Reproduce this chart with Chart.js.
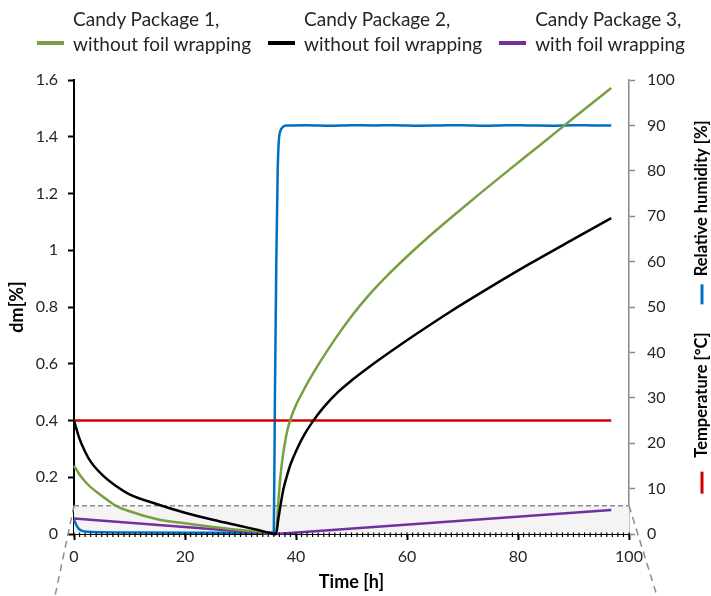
<!DOCTYPE html>
<html>
<head>
<meta charset="utf-8">
<script src="https://cdn.jsdelivr.net/npm/chart.js@4.4.1/dist/chart.umd.min.js"></script>
<style>
  html, body { margin: 0; padding: 0; background: #fff; }
  #wrap { position: relative; width: 711px; height: 596px; }
  #legend {
    position: absolute; top: 6px; left: 0; width: 711px;
    display: flex; justify-content: flex-start; gap: 17px;
    padding-left: 37px; box-sizing: border-box;
    font-family: Lato, "Open Sans", sans-serif; font-size: 19px; color: #262626;
  }
  .item { display: flex; align-items: flex-end; }
  .swatch { width: 27px; height: 4px; margin: 0 9px 11px 0; }
  .lbl { line-height: 25px; white-space: nowrap; }
</style>
</head>
<body>
<div id="wrap">
  <canvas id="chart" width="711" height="596"></canvas>
  <div id="legend"></div>
</div>
<script>
// ─── Data ────────────────────────────────────────────────────────────────────

// drying phase (dm falls), then humid phase (dm rises)
const timeDry  = [0, 1, 2, 3, 5, 7.5, 10, 15, 20, 25, 30, 33, 36.4];
const pkg1Dry  = [0.24, 0.21, 0.185, 0.165, 0.135, 0.10, 0.08, 0.052, 0.038, 0.025, 0.014, 0.008, 0];
const pkg2Dry  = [0.40, 0.335, 0.29, 0.255, 0.21, 0.17, 0.14, 0.105, 0.075, 0.05, 0.028, 0.015, 0];

const timeWet1 = [36.7, 37, 37.4, 37.9, 38.5, 39.2, 40, 41, 42, 44, 47, 50, 53, 56, 60, 65, 71, 78, 84, 90, 96.8];
const pkg1Wet  = [0.08, 0.16, 0.24, 0.31, 0.37, 0.415, 0.455, 0.493, 0.53, 0.596, 0.686, 0.767, 0.839, 0.902,
                  0.978, 1.066, 1.165, 1.277, 1.371, 1.466, 1.572];

const timeWet2 = [36.8, 37.2, 37.7, 38.3, 39, 40, 41.5, 43, 45, 47.5, 50, 53, 57, 62, 68, 75, 82, 90, 96.8];
const pkg2Wet  = [0.05, 0.10, 0.155, 0.20, 0.245, 0.292, 0.35, 0.396, 0.447, 0.499, 0.541, 0.586, 0.642,
                  0.709, 0.786, 0.87, 0.951, 1.039, 1.113];

const timePkg3 = [0, 36.4, 96.8];
const pkg3     = [0.055, 0, 0.085];

const timeRh   = [0, 0.5, 1, 1.5, 2.5, 5, 10, 20, 30, 36.0, 36.2, 36.45, 36.7, 36.9, 37.2, 37.6, 38.2,
                  42, 46, 50, 54, 58, 62, 66, 70, 74, 78, 82, 86, 90, 94, 96.8];
const rh       = [3.1, 1.8, 1.0, 0.7, 0.5, 0.4, 0.35, 0.3, 0.3, 0.4, 30, 60, 80, 86.5, 88.8, 89.6, 90.0,
                  90.05, 89.95, 90.05, 90.0, 90.05, 89.95, 90.0, 90.05, 89.95, 90.05, 90.0, 89.95, 90.05, 90.0, 90.0];

const timeTemp = [0, 96.8];
const temp     = [25, 25];

const xTicks   = [0, 20, 40, 60, 80, 100];
const boxTop   = 0.1;   // zoomed band, dm[%]

// ─── Helpers ─────────────────────────────────────────────────────────────────

function pts(xs, ys) {
  return xs.map((x, i) => ({ x, y: ys[i] }));
}

const FONT = "Lato, 'Open Sans', sans-serif";
Chart.defaults.font.family = FONT;
Chart.defaults.color = "#262626";

// ─── Plugins ─────────────────────────────────────────────────────────────────

const zoomBand = {
  id: "zoomBand",
  beforeDatasetsDraw(chart) {
    const { ctx, scales: { x, y } } = chart;
    const l = x.getPixelForValue(xTicks[0]);
    const r = x.getPixelForValue(xTicks[xTicks.length - 1]);
    const t = y.getPixelForValue(boxTop);
    const b = y.getPixelForValue(0);
    ctx.save();
    ctx.fillStyle = "#f4f4f4";
    ctx.fillRect(l, t, r - l, b - t);
    ctx.setLineDash([5, 3]);
    ctx.strokeStyle = "#8c8c8c";
    ctx.lineWidth = 1.5;
    ctx.beginPath();
    ctx.moveTo(l, t);
    ctx.lineTo(r, t);
    ctx.stroke();
    ctx.restore();
  },
  afterDraw(chart) {
    const { ctx, scales: { x, y } } = chart;
    const l = x.getPixelForValue(xTicks[0]);
    const r = x.getPixelForValue(xTicks[xTicks.length - 1]);
    const t = y.getPixelForValue(boxTop);
    const b = y.getPixelForValue(0);
    ctx.save();
    // minor ticks, every hour
    ctx.strokeStyle = "#000";
    ctx.lineWidth = 1.2;
    for (let v = xTicks[0]; v <= xTicks[xTicks.length - 1]; v += 1) {
      const px = x.getPixelForValue(v);
      ctx.beginPath();
      ctx.moveTo(px, b - 1.5);
      ctx.lineTo(px, b + 3);
      ctx.stroke();
    }
    // zoom-out guide lines
    ctx.setLineDash([7, 5]);
    ctx.strokeStyle = "#8c8c8c";
    ctx.lineWidth = 1.5;
    ctx.beginPath();
    ctx.moveTo(l, t);
    ctx.lineTo(l - 19, chart.height);
    ctx.moveTo(r, t);
    ctx.lineTo(r + 28, chart.height);
    ctx.stroke();
    ctx.restore();
  }
};

const rightTitle = {
  id: "rightTitle",
  afterDraw(chart) {
    const { ctx, chartArea } = chart;
    const s = chart.scales.y1;
    const parts = [
      { dash: "#d00000", len: 22 }, { gap: 14 },
      { text: "Temperature [°C]" }, { gap: 28 },
      { dash: "#0070c0", len: 20 }, { gap: 8 },
      { text: "Relative humidity [%]" }
    ];
    ctx.save();
    ctx.font = "bold 16.5px " + FONT;
    let total = 0;
    for (const p of parts) {
      p.w = p.text ? ctx.measureText(p.text).width : (p.len || p.gap);
      total += p.w;
    }
    ctx.translate(s.right - 9, (chartArea.top + chartArea.bottom) / 2);
    ctx.rotate(-Math.PI / 2);
    ctx.textBaseline = "middle";
    ctx.textAlign = "left";
    let pos = -total / 2;
    for (const p of parts) {
      if (p.text) {
        ctx.fillStyle = "#000";
        ctx.fillText(p.text, pos, 0);
      } else if (p.dash) {
        ctx.strokeStyle = p.dash;
        ctx.lineWidth = 3;
        ctx.beginPath();
        ctx.moveTo(pos, 0);
        ctx.lineTo(pos + p.w, 0);
        ctx.stroke();
      }
      pos += p.w;
    }
    ctx.restore();
  }
};

// ─── Chart ───────────────────────────────────────────────────────────────────

const line = (label, data, color, axis, extra) => Object.assign({
  label,
  data,
  borderColor: color,
  backgroundColor: color,
  borderWidth: 2.5,
  pointRadius: 0,
  cubicInterpolationMode: "monotone",
  yAxisID: axis,
  clip: false
}, extra || {});

const chart = new Chart(document.getElementById("chart"), {
  type: "line",
  data: {
    datasets: [
      line("Relative humidity [%]", pts(timeRh, rh), "#0070c0", "y1", { order: 5 }),
      line("Temperature [°C]", pts(timeTemp, temp), "#d00000", "y1", { order: 4 }),
      line("Candy Package 1, without foil wrapping",
           pts(timeDry, pkg1Dry).concat(pts(timeWet1, pkg1Wet)), "#78a042", "y",
           { legendLines: ["Candy Package 1,", "without foil wrapping"], order: 2 }),
      line("Candy Package 2, without foil wrapping",
           pts(timeDry, pkg2Dry).concat(pts(timeWet2, pkg2Wet)), "#000000", "y",
           { legendLines: ["Candy Package 2,", "without foil wrapping"], order: 1 }),
      line("Candy Package 3, with foil wrapping", pts(timePkg3, pkg3), "#7030a0", "y",
           { legendLines: ["Candy Package 3,", "with foil wrapping"], order: 3, cubicInterpolationMode: "default", tension: 0 })
    ]
  },
  options: {
    responsive: false,
    animation: false,
    layout: { padding: { top: 80, left: 0, right: 0, bottom: 0 } },
    plugins: { legend: { display: false }, tooltip: { enabled: false } },
    scales: {
      x: {
        type: "linear",
        min: 0, max: 100,
        afterFit: s => { s.height = 62; },
        afterBuildTicks: s => { s.ticks = xTicks.map(v => ({ value: v })); },
        ticks: { font: { size: 16 }, padding: 7, maxRotation: 0 },
        grid: { drawOnChartArea: false, tickLength: 6, tickColor: "#000", tickWidth: 2 },
        border: { color: "#000", width: 2 },
        title: { display: true, text: "Time [h]", color: "#000", font: { size: 18, weight: "bold" }, padding: { bottom: 3 } }
      },
      y: {
        position: "left",
        min: 0, max: 1.6,
        afterFit: s => { s.width = 74; },
        ticks: { stepSize: 0.2, font: { size: 16 }, padding: 10,
                 callback: v => String(Number(v.toFixed(1))) },
        grid: { drawOnChartArea: false, tickLength: 6, tickColor: "#000", tickWidth: 2 },
        border: { color: "#000", width: 2 },
        title: { display: true, text: "dm[%]", color: "#000", font: { size: 18, weight: "bold" }, padding: { top: 6 } }
      },
      y1: {
        position: "right",
        min: 0, max: 100,
        afterFit: s => { s.width = 82; },
        ticks: { stepSize: 10, font: { size: 16 }, padding: 12 },
        grid: { drawOnChartArea: false, tickLength: 6, tickColor: "#888", tickWidth: 1.5 },
        border: { color: "#888", width: 1.5 }
      }
    }
  },
  plugins: [zoomBand, rightTitle]
});

// ─── Legend (HTML) ───────────────────────────────────────────────────────────

const legendEl = document.getElementById("legend");
chart.data.datasets.filter(d => d.legendLines).forEach(d => {
  const item = document.createElement("div");
  item.className = "item";
  const sw = document.createElement("div");
  sw.className = "swatch";
  sw.style.background = d.borderColor;
  const lbl = document.createElement("div");
  lbl.className = "lbl";
  lbl.innerHTML = d.legendLines.join("<br>");
  item.appendChild(sw);
  item.appendChild(lbl);
  legendEl.appendChild(item);
});
</script>
</body>
</html>
